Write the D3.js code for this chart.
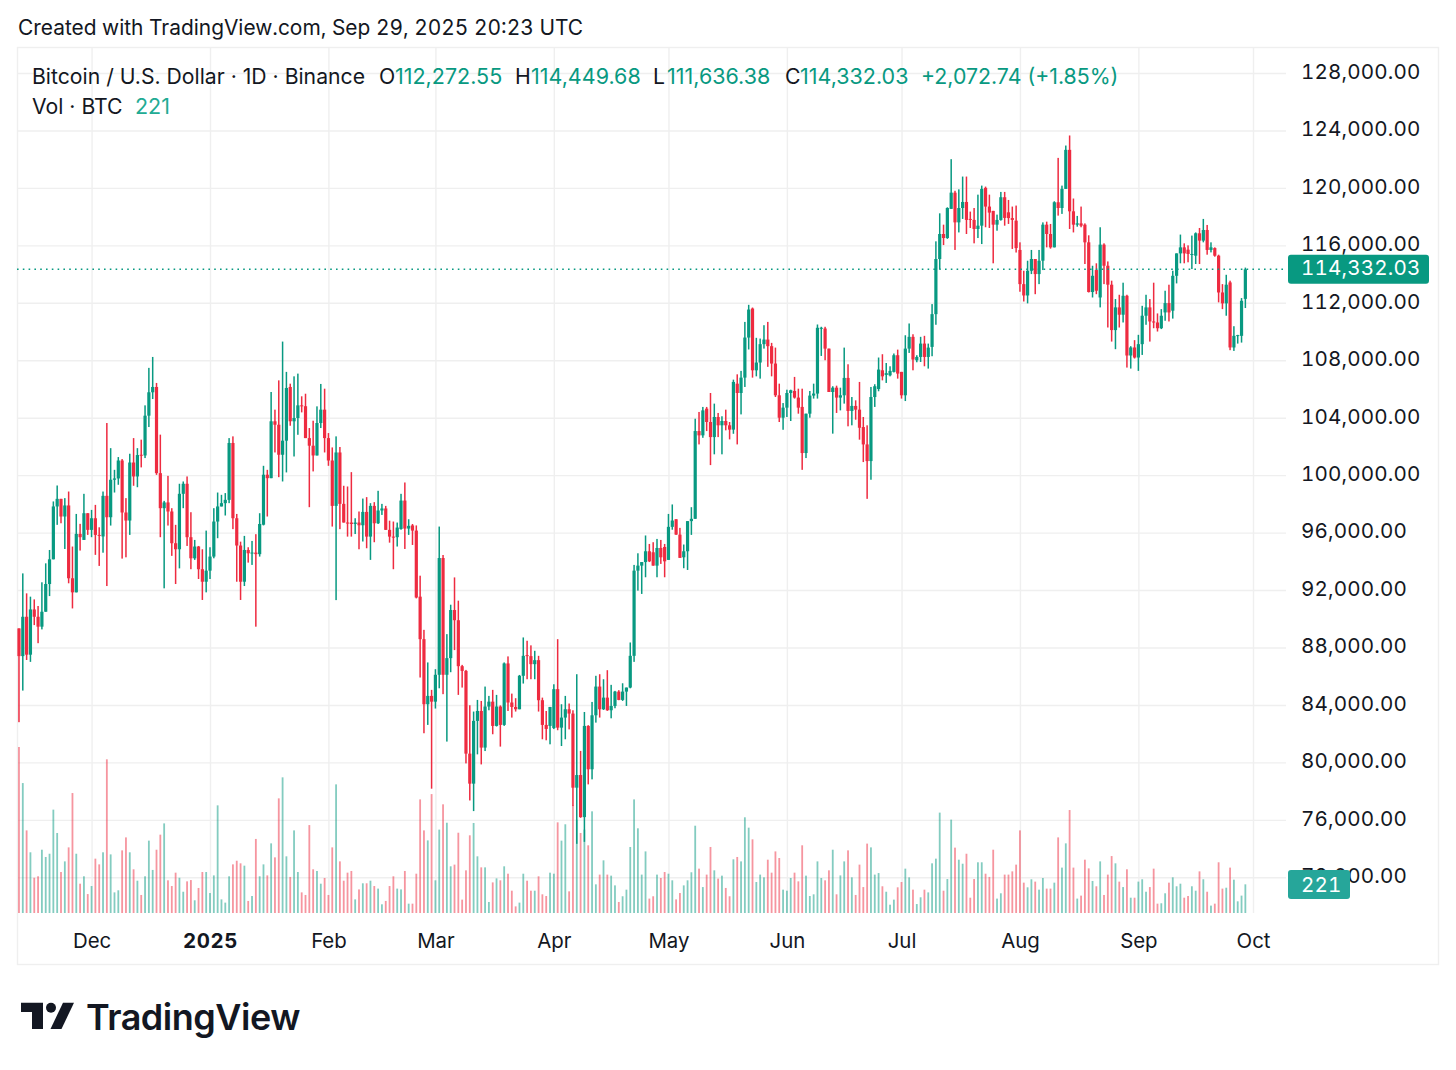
<!DOCTYPE html>
<html>
<head>
<meta charset="utf-8">
<script src="https://d3js.org/d3.v7.min.js"></script>
<style>
  html, body { margin: 0; background: #fff; }
  text { font-family: Inter, "Noto Sans", sans-serif; fill: #131722; font-variant-numeric: tabular-nums; }
</style>
</head>
<body>
<div id="chart"></div>
<script>
// BTCUSD daily candles, one value per day from 12 Nov 2024 to 29 Sep 2025
const opens = [
  89330,87400,90140,87500,90650,90140,89450,90490,92420,94140,
  97820,98350,97120,97890,92820,91840,95910,95490,97350,96190,
  97000,95840,95730,98560,97070,99680,99770,101020,97400,96840,
  100880,99910,101420,101370,104140,105770,106140,100140,97700,98100,
  97470,95260,94840,98700,99400,95680,94210,95030,93450,92580,
  93350,94330,96770,97820,98050,98280,102240,97000,95100,92580,
  94790,94560,94610,94500,96550,100030,99790,103750,103510,101420,
  102400,106140,103750,103980,104860,104800,102580,102050,101370,103630,
  104560,102580,101020,97860,101580,98000,96700,96700,96600,96700,
  96510,97440,95720,97860,96650,97540,97680,96190,95720,95680,
  96250,98230,96280,96500,96140,91540,88580,84050,84630,84230,
  86100,94230,86100,87260,90610,89900,86700,86370,80610,78520,
  82890,83580,81030,83890,84230,82540,83890,82610,86890,84170,
  83860,83700,86030,87470,87400,86840,87120,84330,82610,82540,
  82390,85100,82420,83120,83700,83400,78240,79120,76190,82540,
  79520,83280,85280,83700,84510,83630,83930,84930,84350,84930,
  85210,87420,93350,93700,93950,94700,94630,93700,94930,95000,
  94100,96400,96930,95860,94280,94700,96800,96960,103070,102770,
  104630,103700,102650,104050,103470,103770,103470,103170,106370,105720,
  106790,109580,111600,107300,107840,109120,109440,108980,107770,105560,
  104000,104700,105720,105860,105400,104750,101540,104280,105540,105680,
  110210,110210,108810,105790,106090,105400,105560,106770,104470,104820,
  104560,103350,102140,100980,105440,106000,107300,106980,106950,107190,
  108350,107190,105560,108810,109630,108000,108230,109160,108230,108930,
  111210,115050,116790,116510,118540,119670,117600,118600,119020,117840,
  117770,117140,117370,120000,118700,118400,117440,117770,119350,118300,
  117900,117720,115680,113300,112510,114230,115050,114000,114930,117440,
  116790,115860,119000,118600,119930,122650,118370,117440,117530,117440,
  116210,112750,114280,112370,116050,114580,113260,110100,111680,111170,
  112490,108330,108890,108190,109120,111100,111680,110700,110630,110230,
  111330,111980,111450,113880,115440,115860,115700,115330,115280,116840,
  116330,117070,115680,115810,115280,112720,111960,113420,108890,109700,
  109700,112272.55
];
const highs = [
  89330,93160,91770,91540,91350,90890,92540,93860,94790,98170,
  99280,98350,98400,98860,95030,97300,96610,98700,97350,97580,
  97930,96370,98860,103630,101880,100370,101260,101120,98400,101490,
  102580,101880,102470,104860,107470,108230,106420,102820,98210,99950,
  97700,96540,99400,99560,99910,97420,95490,95070,94840,96140,
  94980,97700,98790,98630,98750,102580,102700,97300,95370,95770,
  94980,95420,95890,97350,100650,100370,105790,104560,106600,109300,
  107190,106370,106880,107070,105490,105670,103280,103790,104790,106350,
  106020,102930,101930,102700,101960,99260,99210,100210,97000,97470,
  98370,98470,98050,98120,98910,98000,97860,96830,96770,96700,
  98700,99490,96930,96600,96500,93000,89230,86960,85050,86490,
  96420,94440,88930,90980,92880,91260,86790,86440,83980,83540,
  84350,84280,85280,84630,85050,84700,83970,86960,87380,84790,
  84470,86090,88700,88470,88150,87770,87420,84510,83580,83860,
  85440,88580,84050,84630,84100,83630,86140,80800,83510,82590,
  84210,86030,86140,85790,86420,85400,84980,85030,85510,85210,
  88350,93750,94560,93940,95800,95210,95330,95560,95490,95210,
  97300,97960,96930,96330,95170,96800,97770,103930,104400,104750,
  104750,105720,104980,104330,104100,104560,103700,106650,107020,107260,
  110670,111860,111670,109560,109510,110440,110670,109210,108880,106370,
  105020,105950,105950,106840,106020,106020,104280,105860,106370,110490,
  110330,110330,108810,106190,106230,106090,108880,107720,105440,105210,
  106490,104050,103470,106140,106330,108190,108420,107810,107580,108470,
  108740,107190,109740,110560,109810,108350,109630,109700,109160,111910,
  116280,118230,117440,118650,122000,119800,119900,120790,120790,118350,
  118600,119530,120160,120090,119530,118400,118140,119720,119720,119160,
  118700,118770,116210,114230,114930,115680,115050,115680,117600,117650,
  117490,119070,122090,120160,122950,123650,119260,118050,118700,117530,
  116700,114580,114750,117260,116140,114880,113540,112260,112560,113400,
  112560,108980,109400,109770,111790,112560,112260,113400,111260,111560,
  112840,113260,114230,115440,116750,116140,116000,116680,116900,117210,
  117840,117420,116210,115860,115350,113300,113950,113540,110370,109770,
  112330,114449.68
];
const lows = [
  82800,85000,87130,87000,89560,88300,89260,90490,91580,94140,
  96540,96650,94860,92470,90720,91840,94750,95490,95840,95680,
  94450,93680,94600,92280,96490,98790,99330,94190,94280,95840,
  99260,99160,100540,101190,103350,105300,100020,95680,92120,96490,
  94380,92420,93510,97700,95070,93450,94100,92770,91310,91840,
  92770,94210,95610,97820,97190,98050,96240,92580,91310,92280,
  93910,93750,89450,94330,96500,97120,99790,101580,99860,99560,
  100190,103440,101300,102810,104370,102580,97770,100260,101370,103280,
  101580,100650,96420,91300,96240,96700,95720,95720,95900,94840,
  95380,94910,94100,95330,96600,97230,96190,95300,93450,95030,
  96200,94860,95840,95140,91420,85910,82030,82610,78170,83750,
  85160,84750,81450,86280,87820,84700,85210,79930,77350,76610,
  80560,79860,80790,83630,81960,82500,81100,82540,83580,83120,
  83540,83700,85490,85790,85790,85790,83540,81610,81540,81260,
  82320,82240,81140,81610,82300,76960,74330,76140,74470,78470,
  78820,82770,83120,83650,83590,83070,83770,84330,84280,83930,
  85160,87000,91960,91730,92890,93950,93700,92890,93820,92890,
  94100,96200,95840,94240,93520,93400,95840,96960,102140,102600,
  103070,100700,101450,102650,101450,103120,102490,102880,102140,104230,
  106140,108750,106790,106880,106720,108810,107540,106880,105440,103700,
  103160,104050,103770,105330,104280,100370,101190,104000,105330,105330,
  108300,108000,105790,102890,104330,104510,104980,103400,103470,103860,
  102470,100910,98350,99680,104750,105840,106600,106420,106880,107150,
  106720,105330,105160,108510,107300,107860,107880,107580,107420,108280,
  110470,114350,116020,116450,118540,115680,116900,117840,116790,117210,
  116140,116510,116090,117260,117210,114750,117020,117720,117370,117490,
  115750,115500,112770,112090,111960,114000,112600,113300,114280,115860,
  115770,115860,118070,118190,119930,117140,116900,117300,117260,114700,
  112720,112370,112600,111680,113300,110280,109300,108770,110280,110630,
  107490,107420,108120,107260,108370,110470,109300,110230,110000,110170,
  110750,110700,110900,113350,114750,114750,114820,114350,114700,114700,
  116210,115350,115510,115210,112030,111560,111100,108700,108650,109160,
  109230,111636.38
];
const closes = [
  87400,90140,87500,90650,90140,89450,90490,92420,94140,97820,
  98350,97120,97890,92820,91840,95910,95680,97350,96190,97000,
  95840,95830,98560,97070,99680,99770,101020,97400,96840,100880,
  99910,101400,101370,104140,105770,106140,100140,97700,98100,97470,
  95260,94840,98700,99400,95680,94210,95030,93450,92580,93350,
  94330,96770,97820,98050,98280,102240,97000,95100,92580,94790,
  94560,94610,94500,96600,100030,99790,103750,103510,101420,102400,
  106070,103750,103980,104860,104800,102580,102050,101370,103630,104560,
  102580,101020,97860,101580,98000,96700,96650,96600,96700,96510,
  97440,95720,97860,96650,97540,97680,96190,95720,95700,96350,
  98230,96280,96470,96140,91480,88580,84050,84630,84230,86100,
  94230,86100,87260,90610,89900,86700,86370,80610,78520,82890,
  83580,81030,83890,84230,82540,83890,82610,86890,84170,83860,
  83700,86030,87420,87400,86840,87120,84330,82610,82330,83860,
  85100,82420,83120,83700,83400,78240,79120,76190,82540,79520,
  83280,85280,83700,84510,83630,83930,84930,84350,84930,85210,
  87420,93350,93700,93950,94700,94000,93700,94930,94280,94000,
  96400,96840,95860,94240,94700,96800,96960,103070,102770,104510,
  103700,102650,104050,103470,103770,103470,103170,106490,105720,106790,
  109580,111530,107300,107840,109120,109440,108980,107770,105560,104000,
  104700,105720,105910,105400,104700,101540,104280,105540,105680,110260,
  110260,108810,105790,106090,105400,105560,106770,104470,104820,104560,
  103300,102140,100980,105440,106190,107350,106880,107100,107260,108350,
  107070,105560,108810,109630,108050,108230,109160,108230,108880,111210,
  115050,116790,116510,118600,119670,117600,118600,119020,117770,117770,
  117140,117370,119930,118700,118280,117440,117770,119350,117910,117900,
  117770,115810,113300,112510,114230,115050,114000,114930,117440,116790,
  115860,119000,118600,119930,122650,118370,117440,117530,117370,116210,
  112750,113880,112840,116050,114580,113260,110100,111680,111170,112490,
  108330,108890,108190,109120,111100,111680,110700,110650,110230,111100,
  111980,111330,113880,115440,115860,115440,115400,115400,116840,116330,
  117070,115680,115860,115280,112720,111960,113260,108890,109700,109750,
  112140,114332.03
];
const volumes = [
  1280,1002,637,468,272,283,488,432,457,797,
  617,316,398,506,925,457,226,283,146,208,
  419,375,468,1185,452,159,175,483,583,468,
  337,249,139,283,558,332,488,604,691,252,
  208,311,272,164,244,254,98,193,316,316,
  154,290,830,105,80,283,375,403,383,365,
  93,131,571,283,375,290,537,429,884,1046,
  437,278,637,316,159,139,678,337,324,226,
  270,139,506,992,398,249,311,324,105,182,
  229,229,249,208,188,67,93,208,283,188,
  182,324,72,72,303,876,637,560,917,252,
  643,838,696,360,373,619,103,329,599,694,
  437,352,352,85,236,267,252,360,303,172,
  51,80,303,249,172,172,283,144,131,311,
  303,699,558,684,167,830,720,617,643,522,
  784,221,296,406,296,288,213,85,129,180,
  509,876,653,296,475,111,129,296,270,316,
  303,252,105,154,213,252,314,673,342,200,
  296,509,329,265,288,193,129,414,432,398,
  738,658,568,239,296,275,411,311,475,424,
  180,172,270,311,244,522,288,131,144,398,
  270,252,329,488,144,290,398,483,275,139,
  373,200,535,506,296,308,206,164,64,103,
  198,239,342,275,180,69,121,180,159,383,
  419,774,172,262,720,504,411,380,457,118,
  262,391,391,303,278,488,111,152,296,296,
  321,373,637,234,198,260,242,180,270,188,
  188,234,583,350,537,794,350,111,134,411,
  344,247,206,398,139,296,439,383,242,200,
  337,118,118,242,260,164,200,342,72,75,
  152,234,275,206,226,118,131,206,172,321,
  260,164,57,72,391,188,195,350,257,90,
  134,221
];

const priceTicks = [128000,124000,120000,116000,112000,108000,104000,100000,96000,92000,88000,84000,80000,76000,72000];
const monthTicks = ["2024-12-01","2025-01-01","2025-02-01","2025-03-01","2025-04-01","2025-05-01","2025-06-01","2025-07-01","2025-08-01","2025-09-01","2025-10-01"];
const monthLabels = ["Dec","2025","Feb","Mar","Apr","May","Jun","Jul","Aug","Sep","Oct"];
const lastClose = "114,332.03";

const upColor = "#089981", downColor = "#ee2b40", gridColor = "#efefef", textColor = "#131722";
const axisFont = "20.6px", axisSpacing = "0.15px";

const days = d3.utcDay.range(new Date(Date.UTC(2024, 10, 12)), new Date(Date.UTC(2025, 8, 30)));
const monthDates = monthTicks.map(d => new Date(d + "T00:00:00Z"));

const svg = d3.select("#chart")
  .append("svg")
  .attr("width", 1456)
  .attr("height", 1070)
  .style("display", "block");

const x = d3.scaleUtc()
  .domain([monthDates[1], monthDates[10]])
  .range([210, 1253]);
const y = d3.scaleLinear()
  .domain([72000, 128000])
  .range([877.3, 73]);
const yVol = d3.scaleLinear()
  .domain([0, 1280])
  .range([913, 747]);

// outer frame
svg.append("rect")
  .attr("x", 17.5).attr("y", 47.5)
  .attr("width", 1421).attr("height", 917)
  .attr("fill", "none").attr("stroke", gridColor).attr("stroke-width", 1.4);

// grid comes from the axes, tick lines stretched over the pane
const hGrid = svg.append("g")
  .attr("transform", "translate(1286,0)")
  .call(d3.axisLeft(y).tickValues(priceTicks).tickSize(1268).tickFormat(""));
const vGrid = svg.append("g")
  .attr("transform", "translate(0,913)")
  .call(d3.axisTop(x).tickValues(monthDates).tickSize(866).tickFormat(""));
[hGrid, vGrid].forEach(g => {
  g.select(".domain").remove();
  g.selectAll("line").attr("stroke", gridColor).attr("stroke-width", 1.4);
});

// volume under the candles
svg.append("g")
  .selectAll("rect")
  .data(days)
  .enter()
    .append("rect")
    .attr("x", d => x(d) - 0.9)
    .attr("width", 1.8)
    .attr("y", (d, i) => yVol(volumes[i]))
    .attr("height", (d, i) => yVol(0) - yVol(volumes[i]))
    .attr("fill", (d, i) => closes[i] >= opens[i] ? upColor : downColor)
    .attr("opacity", 0.5);

// wicks
svg.append("g")
  .selectAll("rect")
  .data(days)
  .enter()
    .append("rect")
    .attr("x", d => x(d) - 0.75)
    .attr("width", 1.5)
    .attr("y", (d, i) => y(highs[i]))
    .attr("height", (d, i) => y(lows[i]) - y(highs[i]))
    .attr("fill", (d, i) => closes[i] >= opens[i] ? upColor : downColor);

// bodies
svg.append("g")
  .selectAll("rect")
  .data(days)
  .enter()
    .append("rect")
    .attr("x", d => x(d) - 1.6)
    .attr("width", 3.2)
    .attr("y", (d, i) => y(Math.max(opens[i], closes[i])))
    .attr("height", (d, i) => Math.max(1, Math.abs(y(opens[i]) - y(closes[i]))))
    .attr("fill", (d, i) => closes[i] >= opens[i] ? upColor : downColor);

// last price line
svg.append("line")
  .attr("x1", 17).attr("x2", 1286)
  .attr("y1", y(114332.03)).attr("y2", y(114332.03))
  .attr("stroke", upColor)
  .attr("stroke-width", 1.6)
  .attr("stroke-dasharray", "1.6,4.2");

// axes
const yAxis = svg.append("g")
  .attr("transform", "translate(1301,0)")
  .call(d3.axisRight(y).tickValues(priceTicks).tickSize(0).tickPadding(0).tickFormat(d3.format(",.2f")));
yAxis.select(".domain").remove();
yAxis.selectAll("text")
  .attr("dy", "0.26em")
  .style("font-size", axisFont)
  .style("letter-spacing", axisSpacing)
  .style("fill", textColor);

const xAxis = svg.append("g")
  .attr("transform", "translate(0,913)")
  .call(d3.axisBottom(x).tickValues(monthDates).tickSize(0).tickPadding(21).tickFormat((d, i) => monthLabels[i]));
xAxis.select(".domain").remove();
xAxis.selectAll("text")
  .style("font-size", "20.4px")
  .style("font-weight", (d, i) => monthLabels[i] === "2025" ? 700 : 400)
  .style("letter-spacing", (d, i) => monthLabels[i] === "2025" ? "0.6px" : "0")
  .style("fill", textColor);

// price and volume tags on the scale
const priceTagY = y(114332.03);
svg.append("rect")
  .attr("x", 1288).attr("y", priceTagY - 14.5)
  .attr("width", 141).attr("height", 29)
  .attr("rx", 3).attr("fill", upColor);
svg.append("text")
  .attr("x", 1301).attr("y", priceTagY + 6)
  .style("font-size", axisFont).style("letter-spacing", axisSpacing).style("fill", "#fff")
  .text(lastClose);
svg.append("rect")
  .attr("x", 1288).attr("y", 870)
  .attr("width", 62).attr("height", 29)
  .attr("rx", 3).attr("fill", "#26a69a");
svg.append("text")
  .attr("x", 1301).attr("y", 892)
  .style("font-size", axisFont).style("letter-spacing", axisSpacing).style("fill", "#fff")
  .text("221");

// header and legend
svg.append("text")
  .attr("x", 18).attr("y", 35)
  .style("font-size", "20.9px")
  .text("Created with TradingView.com, Sep 29, 2025 20:23 UTC");

const legendRows = [
  [32, "Bitcoin / U.S. Dollar · 1D · Binance", textColor, "21.2px"],
  [379, "O", textColor, "21.2px"], [395, "112,272.55", upColor, "21.5px"],
  [515, "H", textColor, "21.2px"], [531, "114,449.68", upColor, "21.5px"],
  [653, "L", textColor, "21.2px"], [667, "111,636.38", upColor, "21.5px"],
  [785, "C", textColor, "21.2px"], [800, "114,332.03", upColor, "21.5px"],
  [921, "+2,072.74 (+1.85%)", upColor, "21.3px"]
];
svg.append("g")
  .selectAll("text")
  .data(legendRows)
  .enter()
    .append("text")
    .attr("x", d => d[0])
    .attr("y", 84)
    .style("font-size", d => d[3])
    .style("font-variant-numeric", "normal")
    .style("fill", d => d[2])
    .text(d => d[1]);
svg.append("text")
  .attr("x", 32).attr("y", 114)
  .style("font-size", "21.2px")
  .style("font-variant-numeric", "normal")
  .text("Vol · BTC");
svg.append("text")
  .attr("x", 135).attr("y", 114)
  .style("font-size", "21.5px")
  .style("font-variant-numeric", "normal")
  .style("fill", "#22ab94")
  .text("221");

// logo
const logo = svg.append("g").attr("fill", "#131722");
logo.append("path").attr("d", "M21 1002.7H43V1029H32V1012H21Z");
logo.append("circle").attr("cx", 51).attr("cy", 1007.7).attr("r", 5);
logo.append("path").attr("d", "M63 1002.7H74L61.5 1029H50.5Z");
svg.append("text")
  .attr("x", 86).attr("y", 1030)
  .style("font-size", "36px")
  .style("font-weight", 600)
  .style("letter-spacing", "-0.5px")
  .text("TradingView");
</script>
</body>
</html>
